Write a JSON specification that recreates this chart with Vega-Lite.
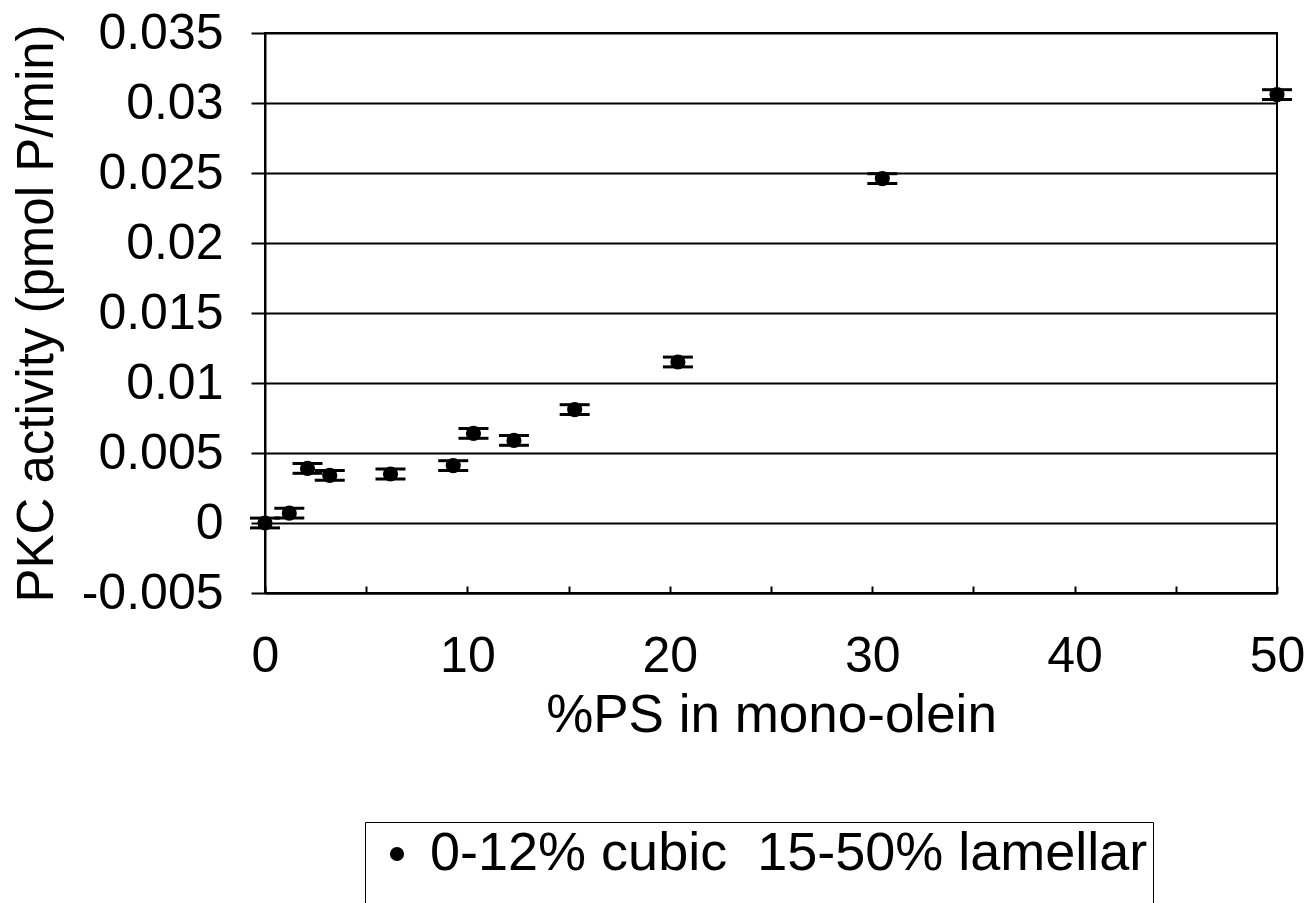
{
  "$schema": "https://vega.github.io/schema/vega-lite/v6.json",
  "width": 1012,
  "height": 560,
  "autosize": {"type": "none"},
  "padding": {"left": 265, "top": 33, "right": 33, "bottom": 310},
  "background": "white",
  "config": {
    "font": "Liberation Sans",
    "view": {"stroke": "black", "strokeWidth": 2},
    "axis": {"labelFont": "Liberation Sans", "titleFont": "Liberation Sans", "labelColor": "black", "titleColor": "black", "titleFontWeight": "normal", "domainColor": "black", "tickColor": "black", "domainWidth": 2, "tickWidth": 2}
  },
  "data": {
    "values": [
      {"ps": 0, "activity": 0.0, "err": 0.00035, "series": "0-12% cubic \u00a015-50% lamellar"},
      {"ps": 1.2, "activity": 0.0007, "err": 0.00035, "series": "0-12% cubic \u00a015-50% lamellar"},
      {"ps": 2.1, "activity": 0.0039, "err": 0.00035, "series": "0-12% cubic \u00a015-50% lamellar"},
      {"ps": 3.2, "activity": 0.0034, "err": 0.00035, "series": "0-12% cubic \u00a015-50% lamellar"},
      {"ps": 6.2, "activity": 0.0035, "err": 0.00035, "series": "0-12% cubic \u00a015-50% lamellar"},
      {"ps": 9.3, "activity": 0.0041, "err": 0.00035, "series": "0-12% cubic \u00a015-50% lamellar"},
      {"ps": 10.3, "activity": 0.0064, "err": 0.00035, "series": "0-12% cubic \u00a015-50% lamellar"},
      {"ps": 12.3, "activity": 0.0059, "err": 0.00035, "series": "0-12% cubic \u00a015-50% lamellar"},
      {"ps": 15.3, "activity": 0.0081, "err": 0.00035, "series": "0-12% cubic \u00a015-50% lamellar"},
      {"ps": 20.4, "activity": 0.0115, "err": 0.00035, "series": "0-12% cubic \u00a015-50% lamellar"},
      {"ps": 30.5, "activity": 0.0246, "err": 0.00035, "series": "0-12% cubic \u00a015-50% lamellar"},
      {"ps": 50, "activity": 0.0306, "err": 0.00035, "series": "0-12% cubic \u00a015-50% lamellar"}
    ]
  },
  "transform": [
    {"calculate": "datum.activity - datum.err", "as": "lo"},
    {"calculate": "datum.activity + datum.err", "as": "hi"}
  ],
  "layer": [
    {
      "mark": {"type": "rule", "color": "black", "strokeWidth": 3},
      "encoding": {
        "x": {"field": "ps", "type": "quantitative", "scale": {"domain": [0, 50], "nice": false},
          "axis": {"values": [0, 5, 10, 15, 20, 25, 30, 35, 40, 45, 50], "labelExpr": "datum.value % 10 == 0 ? datum.label : ''", "labelFlush": false, "grid": false, "tickSize": -7, "labelFontSize": 50, "labelPadding": 45, "labelBaseline": "top", "title": "%PS in mono-olein", "titleFontSize": 53, "titlePadding": 8}},
        "y": {"field": "lo", "type": "quantitative", "scale": {"domain": [-0.005, 0.035], "nice": false, "zero": false},
          "axis": {"values": [-0.005, 0, 0.005, 0.01, 0.015, 0.02, 0.025, 0.03, 0.035], "labelExpr": "datum.value == 0 ? '0' : replace(format(datum.value, ''), '\u2212', '-')", "grid": true, "gridColor": "black", "gridWidth": 2, "gridOpacity": 1, "tickSize": 14, "labelFontSize": 50, "labelPadding": 28, "title": "PKC activity (pmol P/min)", "titleFontSize": 51, "titlePadding": 18}},
        "y2": {"field": "hi"}
      }
    },
    {
      "mark": {"type": "tick", "orient": "horizontal", "color": "black", "opacity": 1, "size": 30, "thickness": 3},
      "encoding": {
        "x": {"field": "ps", "type": "quantitative"},
        "y": {"field": "lo", "type": "quantitative"}
      }
    },
    {
      "mark": {"type": "tick", "orient": "horizontal", "color": "black", "opacity": 1, "size": 30, "thickness": 3},
      "encoding": {
        "x": {"field": "ps", "type": "quantitative"},
        "y": {"field": "hi", "type": "quantitative"}
      }
    },
    {
      "mark": {"type": "point", "filled": true, "shape": "circle", "size": 230, "opacity": 1},
      "encoding": {
        "x": {"field": "ps", "type": "quantitative"},
        "y": {"field": "activity", "type": "quantitative"},
        "color": {"field": "series", "type": "nominal", "scale": {"domain": ["0-12% cubic \u00a015-50% lamellar", " "], "range": ["black", "white"]},
          "legend": {"title": null, "orient": "none", "direction": "vertical", "legendX": 100, "legendY": 789, "strokeColor": "black", "padding": 5, "labelFontSize": 54, "labelFont": "Liberation Sans", "labelColor": "black", "labelOffset": 6, "symbolSize": 200, "symbolType": "circle", "labelLimit": 1000}}
      }
    }
  ]
}
